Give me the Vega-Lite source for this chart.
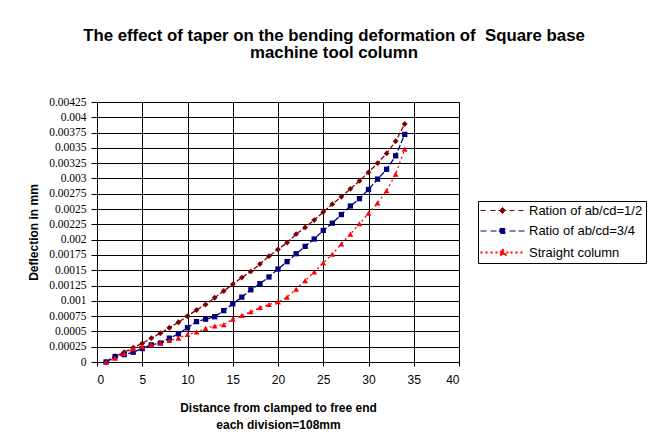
{
  "$schema": "https://vega.github.io/schema/vega-lite/v6.json",
  "width": 362,
  "height": 260,
  "autosize": {"type": "none"},
  "padding": {"left": 97, "top": 102, "right": 192, "bottom": 85},
  "background": "white",
  "title": {
    "text": ["The effect of taper on the bending deformation of \u00a0Square base", "machine tool column"],
    "font": "Liberation Sans",
    "fontSize": 16.8,
    "fontWeight": "bold",
    "color": "black",
    "anchor": "middle",
    "dx": 56,
    "offset": 17,
    "lineHeight": 17.5,
    "baseline": "bottom"
  },
  "config": {
    "view": {"stroke": "#808080", "strokeWidth": 1},
    "axis": {
      "domainColor": "black",
      "tickColor": "black",
      "gridColor": "black",
      "gridOpacity": 1,
      "gridWidth": 1,
      "labelColor": "black",
      "titleColor": "black",
      "titleFont": "Liberation Sans",
      "titleFontSize": 12,
      "titleFontWeight": "bold"
    }
  },
  "data": {
    "values": [
      {"x": 1, "series": "Ration of ab/cd=1/2", "y": 0},
      {"x": 2, "series": "Ration of ab/cd=1/2", "y": 0.00009},
      {"x": 3, "series": "Ration of ab/cd=1/2", "y": 0.00016},
      {"x": 4, "series": "Ration of ab/cd=1/2", "y": 0.000234},
      {"x": 5, "series": "Ration of ab/cd=1/2", "y": 0.000305},
      {"x": 6, "series": "Ration of ab/cd=1/2", "y": 0.00039},
      {"x": 7, "series": "Ration of ab/cd=1/2", "y": 0.00047},
      {"x": 8, "series": "Ration of ab/cd=1/2", "y": 0.00056},
      {"x": 9, "series": "Ration of ab/cd=1/2", "y": 0.00065},
      {"x": 10, "series": "Ration of ab/cd=1/2", "y": 0.00075},
      {"x": 11, "series": "Ration of ab/cd=1/2", "y": 0.00085},
      {"x": 12, "series": "Ration of ab/cd=1/2", "y": 0.00094},
      {"x": 13, "series": "Ration of ab/cd=1/2", "y": 0.00105},
      {"x": 14, "series": "Ration of ab/cd=1/2", "y": 0.00116},
      {"x": 15, "series": "Ration of ab/cd=1/2", "y": 0.00127},
      {"x": 16, "series": "Ration of ab/cd=1/2", "y": 0.00138},
      {"x": 17, "series": "Ration of ab/cd=1/2", "y": 0.00148},
      {"x": 18, "series": "Ration of ab/cd=1/2", "y": 0.0016},
      {"x": 19, "series": "Ration of ab/cd=1/2", "y": 0.00173},
      {"x": 20, "series": "Ration of ab/cd=1/2", "y": 0.00184},
      {"x": 21, "series": "Ration of ab/cd=1/2", "y": 0.00195},
      {"x": 22, "series": "Ration of ab/cd=1/2", "y": 0.00209},
      {"x": 23, "series": "Ration of ab/cd=1/2", "y": 0.0022},
      {"x": 24, "series": "Ration of ab/cd=1/2", "y": 0.00232},
      {"x": 25, "series": "Ration of ab/cd=1/2", "y": 0.00245},
      {"x": 26, "series": "Ration of ab/cd=1/2", "y": 0.00258},
      {"x": 27, "series": "Ration of ab/cd=1/2", "y": 0.0027},
      {"x": 28, "series": "Ration of ab/cd=1/2", "y": 0.00283},
      {"x": 29, "series": "Ration of ab/cd=1/2", "y": 0.00296},
      {"x": 30, "series": "Ration of ab/cd=1/2", "y": 0.0031},
      {"x": 31, "series": "Ration of ab/cd=1/2", "y": 0.00325},
      {"x": 32, "series": "Ration of ab/cd=1/2", "y": 0.00341},
      {"x": 33, "series": "Ration of ab/cd=1/2", "y": 0.00361},
      {"x": 34, "series": "Ration of ab/cd=1/2", "y": 0.00389},
      {"x": 1, "series": "Ratio of ab/cd=3/4", "y": 0},
      {"x": 2, "series": "Ratio of ab/cd=3/4", "y": 0.00009},
      {"x": 3, "series": "Ratio of ab/cd=3/4", "y": 0.00012},
      {"x": 4, "series": "Ratio of ab/cd=3/4", "y": 0.00016},
      {"x": 5, "series": "Ratio of ab/cd=3/4", "y": 0.00022},
      {"x": 6, "series": "Ratio of ab/cd=3/4", "y": 0.00028},
      {"x": 7, "series": "Ratio of ab/cd=3/4", "y": 0.00031},
      {"x": 8, "series": "Ratio of ab/cd=3/4", "y": 0.00039},
      {"x": 9, "series": "Ratio of ab/cd=3/4", "y": 0.00046},
      {"x": 10, "series": "Ratio of ab/cd=3/4", "y": 0.00056},
      {"x": 11, "series": "Ratio of ab/cd=3/4", "y": 0.00066},
      {"x": 12, "series": "Ratio of ab/cd=3/4", "y": 0.0007},
      {"x": 13, "series": "Ratio of ab/cd=3/4", "y": 0.00074},
      {"x": 14, "series": "Ratio of ab/cd=3/4", "y": 0.00084},
      {"x": 15, "series": "Ratio of ab/cd=3/4", "y": 0.00095},
      {"x": 16, "series": "Ratio of ab/cd=3/4", "y": 0.00106},
      {"x": 17, "series": "Ratio of ab/cd=3/4", "y": 0.00118},
      {"x": 18, "series": "Ratio of ab/cd=3/4", "y": 0.00128},
      {"x": 19, "series": "Ratio of ab/cd=3/4", "y": 0.00139},
      {"x": 20, "series": "Ratio of ab/cd=3/4", "y": 0.00152},
      {"x": 21, "series": "Ratio of ab/cd=3/4", "y": 0.00164},
      {"x": 22, "series": "Ratio of ab/cd=3/4", "y": 0.00177},
      {"x": 23, "series": "Ratio of ab/cd=3/4", "y": 0.00189},
      {"x": 24, "series": "Ratio of ab/cd=3/4", "y": 0.00201},
      {"x": 25, "series": "Ratio of ab/cd=3/4", "y": 0.00215},
      {"x": 26, "series": "Ratio of ab/cd=3/4", "y": 0.00227},
      {"x": 27, "series": "Ratio of ab/cd=3/4", "y": 0.00241},
      {"x": 28, "series": "Ratio of ab/cd=3/4", "y": 0.00255},
      {"x": 29, "series": "Ratio of ab/cd=3/4", "y": 0.00267},
      {"x": 30, "series": "Ratio of ab/cd=3/4", "y": 0.00282},
      {"x": 31, "series": "Ratio of ab/cd=3/4", "y": 0.00299},
      {"x": 32, "series": "Ratio of ab/cd=3/4", "y": 0.00315},
      {"x": 33, "series": "Ratio of ab/cd=3/4", "y": 0.00337},
      {"x": 34, "series": "Ratio of ab/cd=3/4", "y": 0.00372},
      {"x": 1, "series": "Straight column", "y": 0},
      {"x": 2, "series": "Straight column", "y": 0.00006},
      {"x": 3, "series": "Straight column", "y": 0.00014},
      {"x": 4, "series": "Straight column", "y": 0.00022},
      {"x": 5, "series": "Straight column", "y": 0.00025},
      {"x": 6, "series": "Straight column", "y": 0.00028},
      {"x": 7, "series": "Straight column", "y": 0.00031},
      {"x": 8, "series": "Straight column", "y": 0.00035},
      {"x": 9, "series": "Straight column", "y": 0.00039},
      {"x": 10, "series": "Straight column", "y": 0.00045},
      {"x": 11, "series": "Straight column", "y": 0.00049},
      {"x": 12, "series": "Straight column", "y": 0.00055},
      {"x": 13, "series": "Straight column", "y": 0.00059},
      {"x": 14, "series": "Straight column", "y": 0.00061},
      {"x": 15, "series": "Straight column", "y": 0.0007},
      {"x": 16, "series": "Straight column", "y": 0.00076},
      {"x": 17, "series": "Straight column", "y": 0.00082},
      {"x": 18, "series": "Straight column", "y": 0.00089},
      {"x": 19, "series": "Straight column", "y": 0.00094},
      {"x": 20, "series": "Straight column", "y": 0.00098},
      {"x": 21, "series": "Straight column", "y": 0.00106},
      {"x": 22, "series": "Straight column", "y": 0.00119},
      {"x": 23, "series": "Straight column", "y": 0.00133},
      {"x": 24, "series": "Straight column", "y": 0.00147},
      {"x": 25, "series": "Straight column", "y": 0.00162},
      {"x": 26, "series": "Straight column", "y": 0.00176},
      {"x": 27, "series": "Straight column", "y": 0.00193},
      {"x": 28, "series": "Straight column", "y": 0.00209},
      {"x": 29, "series": "Straight column", "y": 0.00226},
      {"x": 30, "series": "Straight column", "y": 0.00243},
      {"x": 31, "series": "Straight column", "y": 0.0026},
      {"x": 32, "series": "Straight column", "y": 0.0028},
      {"x": 33, "series": "Straight column", "y": 0.00307},
      {"x": 34, "series": "Straight column", "y": 0.00348}
    ]
  },
  "encoding": {
    "x": {
      "field": "x",
      "type": "quantitative",
      "scale": {"domain": [0, 40], "nice": false, "zero": false},
      "axis": {
        "values": [0, 5, 10, 15, 20, 25, 30, 35, 40],
        "title": ["Distance from clamped to free end", "each division=108mm"],
        "titleLineHeight": 17,
        "titlePadding": 17,
        "labelFont": "Liberation Sans",
        "labelFontSize": 12,
        "labelPadding": 8,
        "tickSize": 4,
        "grid": true
      }
    },
    "y": {
      "field": "y",
      "type": "quantitative",
      "scale": {"domain": [0, 0.00425], "nice": false},
      "axis": {
        "values": [0, 0.00025, 0.0005, 0.00075, 0.001, 0.00125, 0.0015, 0.00175, 0.002, 0.00225, 0.0025, 0.00275, 0.003, 0.00325, 0.0035, 0.00375, 0.004, 0.00425],
        "labelExpr": "'' + datum.value",
        "title": "Deflection in mm",
        "titlePadding": 8,
        "labelFont": "Liberation Serif",
        "labelFontSize": 11.5,
        "labelPadding": 5,
        "tickSize": 6,
        "grid": true
      }
    }
  },
  "layer": [
    {
      "mark": {"type": "line", "strokeWidth": 1.3},
      "encoding": {
        "strokeDash": {
          "field": "series",
          "type": "nominal",
          "scale": {
            "domain": ["Ration of ab/cd=1/2", "Ratio of ab/cd=3/4", "Straight column"],
            "range": [[5, 2], [6, 2], [2, 3]]
          },
          "legend": null
        },
        "color": {
          "field": "series",
          "type": "nominal",
          "scale": {
            "domain": ["Ration of ab/cd=1/2", "Ratio of ab/cd=3/4", "Straight column"],
            "range": ["#800000", "#000080", "#FF0000"]
          },
          "legend": {
            "orient": "none",
            "legendX": 381,
            "legendY": 99,
            "title": null,
            "padding": 3,
            "strokeColor": "black",
            "fillColor": "white",
            "symbolType": "M-1,0H0.2M1,0H2.2M2.6,0H4.2M4.8,0H6M6.6,0H7.8",
            "symbolSize": 100,
            "symbolOffset": 0,
            "symbolStrokeWidth": 1,
            "symbolDash": [1, 0],
            "labelOffset": 35,
            "labelFont": "Liberation Sans",
            "labelFontSize": 13,
            "labelColor": "black",
            "rowPadding": 6.5,
            "encode": {
              "symbols": {
                "update": {
                  "shape": {"signal": "datum.value === 'Ration of ab/cd=1/2' ? 'M-1.4,0H-0.2M0.6,0H1.8M2.2,0H3.8M4.4,0H5.6M6.2,0H7.4M3,-0.6L3.6,0L3,0.6L2.4,0Z' : datum.value === 'Ratio of ab/cd=3/4' ? 'M-1.4,0H-0.2M0.6,0H1.8M2.2,0H3.8M4.4,0H5.6M6.2,0H7.4M2.5,-0.5H3.5V0.5H2.5Z' : 'M-1.4,0H-1M-0.4,0H0M0.6,0H1M1.6,0H2M2.6,0H3.4M3.8,0H4.2M4.6,0H5M5.6,0H6M6.6,0H7M3,-0.7L3.6,0.45L2.4,0.45Z'"},
                  "fill": {"signal": "scale('color', datum.value)"},
                  "stroke": {"signal": "scale('color', datum.value)"},
                  "strokeDash": {"value": [1, 0]},
                  "strokeWidth": {"signal": "datum.value === 'Straight column' ? 2 : 1"},
                  "opacity": {"value": 1}
                }
              }
            }
          }
        }
      }
    },
    {
      "transform": [{"filter": "datum.series === 'Ration of ab/cd=1/2'"}],
      "mark": {"type": "point", "shape": "diamond", "filled": true, "opacity": 1, "size": 34, "color": "#800000"}
    },
    {
      "transform": [{"filter": "datum.series === 'Ratio of ab/cd=3/4'"}],
      "mark": {"type": "point", "shape": "square", "filled": true, "opacity": 1, "size": 28, "color": "#000080"}
    },
    {
      "transform": [{"filter": "datum.series === 'Straight column'"}],
      "mark": {"type": "point", "shape": "triangle-up", "filled": true, "opacity": 1, "size": 34, "color": "#FF0000"}
    }
  ]
}
